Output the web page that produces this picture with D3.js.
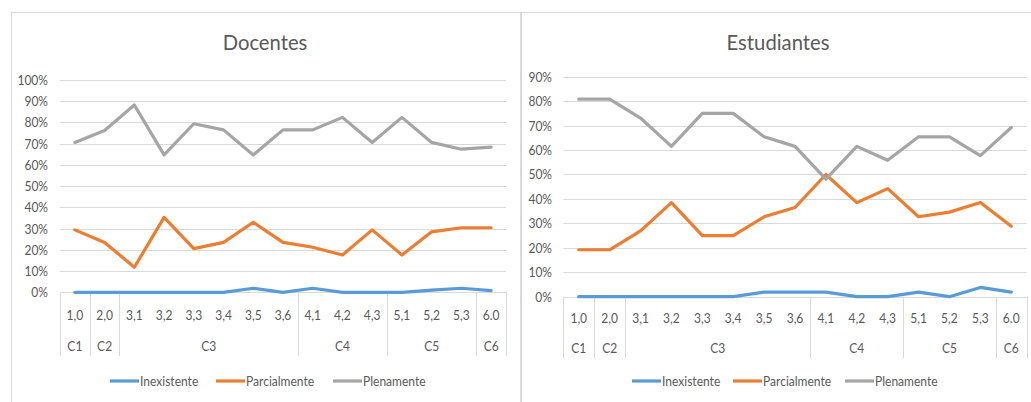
<!DOCTYPE html>
<html>
<head>
<meta charset="utf-8">
<script src="https://cdn.jsdelivr.net/npm/d3@7"></script>
<style>
  html, body { margin: 0; padding: 0; background: #fff; }
  svg { display: block; }
  text { font-family: Lato, "Open Sans", sans-serif; fill: #595959; }
</style>
</head>
<body>
<svg id="chart" width="1031" height="402"></svg>
<script>
// ---- data ----
const codes = ["1,0","2,0","3,1","3,2","3,3","3,4","3,5","3,6","4,1","4,2","4,3","5,1","5,2","5,3","6.0"];
const groups = ["C1","C2","C3","C4","C5","C6"];
const groupSizes = [1, 1, 6, 3, 3, 1];
const seriesNames = ["Inexistente", "Parcialmente", "Plenamente"];
const seriesColors = ["#5B9BD5", "#ED7D31", "#A5A5A5"];

const docInexistente  = [0, 0, 0, 0, 0, 0, 1.9, 0, 1.9, 0, 0, 0, 1.0, 1.9, 0.8];
const docParcialmente = [29.4, 23.5, 11.8, 35.3, 20.6, 23.5, 33.0, 23.5, 21.2, 17.6, 29.4, 17.6, 28.5, 30.4, 30.4];
const docPlenamente   = [70.6, 76.2, 88.2, 64.7, 79.4, 76.5, 64.7, 76.5, 76.5, 82.4, 70.6, 82.4, 70.6, 67.4, 68.4];

const estInexistente  = [0, 0, 0, 0, 0, 0, 1.9, 1.9, 1.9, 0, 0, 1.9, 0, 3.8, 1.9];
const estParcialmente = [19.2, 19.2, 26.9, 38.5, 25.0, 25.0, 32.7, 36.5, 50.0, 38.5, 44.2, 32.7, 34.6, 38.5, 28.8];
const estPlenamente   = [80.8, 80.8, 73.1, 61.5, 75.0, 75.0, 65.4, 61.5, 48.1, 61.5, 55.8, 65.4, 65.4, 57.7, 69.2];

const docTicks = [0,10,20,30,40,50,60,70,80,90,100];
const estTicks = [0,10,20,30,40,50,60,70,80,90];

const SX = 0.86;   // horizontal condensing of label text
const svg = d3.select("#chart");

// panel frames
svg.append("rect").attr("x", 11.5).attr("y", 12.5).attr("width", 509).attr("height", 400)
  .attr("fill", "none").attr("stroke", "#D9D9D9");
svg.append("rect").attr("x", 521.5).attr("y", 12.5).attr("width", 520).attr("height", 400)
  .attr("fill", "none").attr("stroke", "#D9D9D9");

function label(parent, x, y, txt, size, anchor) {
  parent.append("text")
    .attr("transform", `translate(${x},${y}) scale(${SX},1)`)
    .attr("text-anchor", anchor).attr("dominant-baseline", "central")
    .style("font-size", size + "px").text(txt);
}

function drawChart(cfg) {
  const g = svg.append("g");
  const x = d3.scaleBand().domain(codes).range([cfg.x0, cfg.x1]).paddingInner(0).paddingOuter(0);
  const y = d3.scaleLinear().domain([0, cfg.ymax]).range([cfg.y0, cfg.y1]);

  // title
  g.append("text").attr("transform", `translate(${cfg.titleX},${cfg.titleY}) scale(0.92,1)`)
    .attr("text-anchor", "middle").style("font-size", "22px").text(cfg.title);

  // grid + y labels
  const yAxis = d3.axisLeft(y).tickValues(cfg.ticks).tickFormat(d => d + "%").tickSize(0).tickPadding(0);
  const ya = g.append("g").attr("transform", `translate(${cfg.labelX},0)`).call(yAxis);
  ya.select(".domain").remove();
  ya.selectAll("text").style("font-size", "14px").attr("fill", "#595959")
    .attr("x", 0).attr("transform", `scale(${SX},1)`);
  ya.attr("font-family", null);

  g.append("g").selectAll("line").data(cfg.ticks.filter(t => t > 0)).join("line")
    .attr("x1", cfg.x0).attr("x2", cfg.x1)
    .attr("y1", d => Math.round(y(d)) + 0.5).attr("y2", d => Math.round(y(d)) + 0.5)
    .attr("stroke", "#D9D9D9").attr("stroke-width", 1);

  // x axis line
  g.append("line").attr("x1", cfg.x0).attr("x2", cfg.x1)
    .attr("y1", Math.round(y(0)) + 0.5).attr("y2", Math.round(y(0)) + 0.5)
    .attr("stroke", "#D9D9D9");

  // category boundaries
  const bounds = [0];
  groupSizes.forEach(s => bounds.push(bounds[bounds.length - 1] + s));
  const bw = x.bandwidth();
  g.append("g").selectAll("line").data(bounds).join("line")
    .attr("x1", d => Math.round(cfg.x0 + d * bw) + 0.5).attr("x2", d => Math.round(cfg.x0 + d * bw) + 0.5)
    .attr("y1", y(0)).attr("y2", cfg.sepBottom)
    .attr("stroke", "#D9D9D9");

  // code labels
  const cl = g.append("g");
  codes.forEach(c => label(cl, x(c) + bw / 2, cfg.codeY, c, 14, "middle"));

  // group labels
  const gl = g.append("g");
  groups.forEach((gr, i) => label(gl, cfg.x0 + (bounds[i] + bounds[i + 1]) / 2 * bw, cfg.groupY, gr, 14, "middle"));

  // lines
  const line = d3.line().x((d, i) => x(codes[i]) + bw / 2).y(d => y(d));
  cfg.series.forEach((s, k) => {
    g.append("path").datum(s).attr("d", line).attr("fill", "none")
      .attr("stroke", seriesColors[k]).attr("stroke-width", 3.2)
      .attr("stroke-linejoin", "round").attr("stroke-linecap", "round");
  });

  // legend
  const lg = g.append("g");
  seriesNames.forEach((n, k) => {
    const lx = cfg.legendX[k];
    lg.append("line").attr("x1", lx).attr("x2", lx + 29).attr("y1", cfg.legendY).attr("y2", cfg.legendY)
      .attr("stroke", seriesColors[k]).attr("stroke-width", 3.2);
    label(lg, lx + 30, cfg.legendY, n, 14, "start");
  });
}

drawChart({
  title: "Docentes", titleX: 265, titleY: 50,
  x0: 60, x1: 506, y0: 292.3, y1: 80, ymax: 100, ticks: docTicks, labelX: 48,
  sepBottom: 356, codeY: 315, groupY: 346,
  series: [docInexistente, docParcialmente, docPlenamente],
  legendX: [110, 216, 333], legendY: 381
});

drawChart({
  title: "Estudiantes", titleX: 778, titleY: 50,
  x0: 563.3, x1: 1026.7, y0: 296.7, y1: 76.7, ymax: 90, ticks: estTicks, labelX: 552,
  sepBottom: 358, codeY: 318, groupY: 348,
  series: [estInexistente, estParcialmente, estPlenamente],
  legendX: [632, 733, 845], legendY: 381
});
</script>
</body>
</html>
